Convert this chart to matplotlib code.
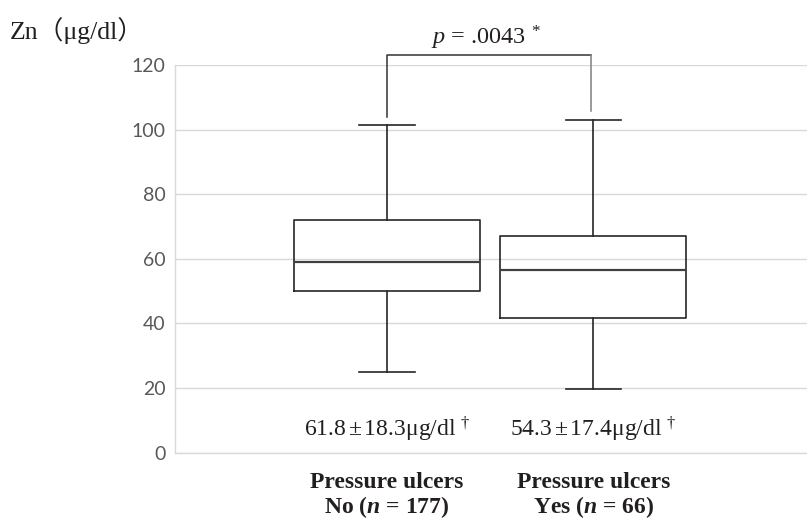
import matplotlib
matplotlib.use("Agg")
import matplotlib.pyplot as plt

plt.rcParams['mathtext.fontset'] = 'custom'
plt.rcParams['mathtext.rm'] = 'Liberation Serif'
plt.rcParams['mathtext.it'] = 'Liberation Serif:italic'
plt.rcParams['mathtext.bf'] = 'Liberation Serif:bold'
plt.rcParams['mathtext.bfit'] = 'Liberation Serif:bold:italic'

# box stats (µg/dl)
groups = ["Pressure ulcers\nNo ($\\mathbfit{n}$ = 177)", "Pressure ulcers\nYes ($\\mathbfit{n}$ = 66)"]
whislo = [24.9, 19.7]
q1 = [50.0, 41.6]
med = [58.9, 56.5]
q3 = [71.9, 67.0]
whishi = [101.4, 103.0]
mean_sd = ["61.8$\\,$\u00b1$\\,$18.3\u03bcg/dl $^{\u2020}$", "54.3$\\,$\u00b1$\\,$17.4\u03bcg/dl $^{\u2020}$"]
p_text = "$p$ = .0043 $^{*}$"
bracket_y = [103.8, 123.1, 105.8]

ink = '#231f20'
boxcol = '#262626'
gridcol = '#d9d9d9'

fig = plt.figure(figsize=(8.07, 5.2), dpi=100)
ax = fig.add_axes([175/807, 1-452.7/520, 1-175/807, (452.7-65)/520])

stats = []
for i in range(len(groups)):
    stats.append(dict(med=med[i], q1=q1[i], q3=q3[i], whislo=whislo[i], whishi=whishi[i], fliers=[]))

pos = [1, 2]
line = dict(color=boxcol, linewidth=1.2)
ax.bxp(stats, positions=pos, widths=0.903, capwidths=0.267, showfliers=False,
       boxprops=line, whiskerprops=line, capprops=line,
       medianprops=dict(color='#404040', linewidth=1.6), manage_ticks=False)

ax.set_xlim(1-(387-175)/206.3, 2+(807-593.3)/206.3)
ax.set_ylim(0, 120)
ax.set_yticks(range(0, 121, 20))
ax.yaxis.grid(True, color=gridcol, linewidth=1.0)
ax.set_axisbelow(True)
for s in ['top', 'right']:
    ax.spines[s].set_visible(False)
ax.spines['left'].set_color(gridcol)
ax.spines['bottom'].set_color(gridcol)
ax.spines['left'].set_linewidth(1.0)
ax.spines['bottom'].set_linewidth(1.0)
ax.tick_params(axis='y', length=0, pad=7, labelsize=14, labelcolor='#595959')
for lab in ax.get_yticklabels():
    lab.set_family('Lato')

ax.set_xticks(pos)
ax.set_xticklabels(groups, fontsize=17, fontweight='bold', family='Liberation Serif',
                   color=ink, linespacing=1.05)
ax.tick_params(axis='x', length=0, pad=14)

# mean +- sd under the boxes
for p, t in zip(pos, mean_sd):
    ax.text(p, 5.2, t, ha='center', va='baseline', fontsize=17,
            family='Liberation Serif', color=ink)

# significance bracket
ax.plot([1.0, 1.0, 1.99], bracket_y[:2] + [bracket_y[1]], color='#333333', lw=1.1, clip_on=False)
ax.plot([1.99, 1.99], [bracket_y[1], bracket_y[2]], color='#7f7f7f', lw=1.1, clip_on=False)
ax.text(1.48, 126.2, p_text, ha='center', va='baseline', fontsize=17.5,
        family='Liberation Serif', color=ink)

fig.text(10/807, 1-39.3/520, "Zn\uff08\u03bcg/dl\uff09", ha='left', va='baseline', fontsize=18.5,
         family=['Liberation Serif', 'Noto Sans CJK JP'], color=ink)

fig.savefig("out.png", dpi=100)
